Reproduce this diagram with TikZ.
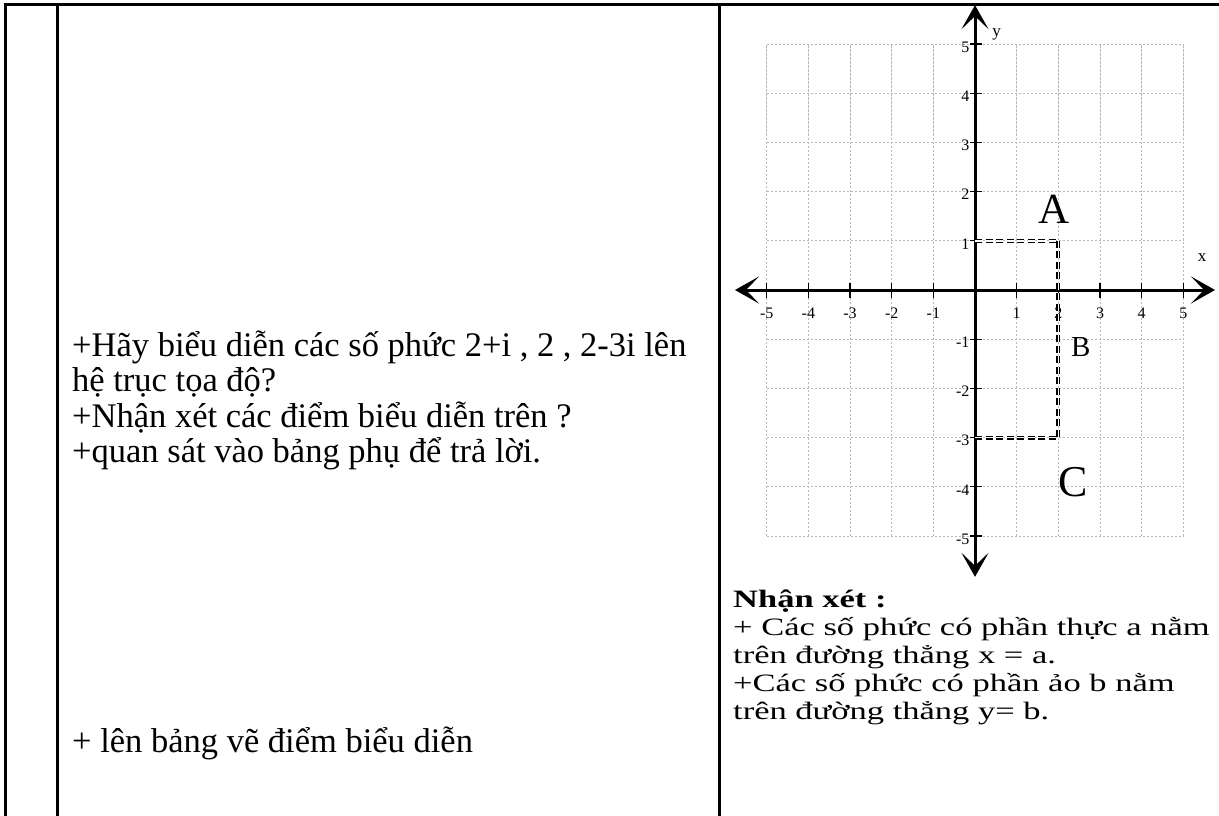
\documentclass[tikz,border=0pt]{standalone}
\usepackage{fontspec}
\setmainfont{Liberation Serif}
\newfontfamily\rightfont[FakeStretch=1.38]{Liberation Serif}
\usetikzlibrary{arrows.meta}
\begin{document}
\begin{tikzpicture}[x=1pt,y=-1pt,
  rule/.style={line width=3pt},
  gridline/.style={gray!55,line width=0.8pt,dash pattern=on 2.5pt off 1.5pt},
  axistip/.tip={Stealth[length=24pt,width=27pt,inset=13pt]},
  axisline/.style={line width=3pt,axistip-axistip},
  tickmark/.style={line width=1.2pt},
  ticklab/.style={font=\fontsize{16}{16}\selectfont,inner sep=0pt},
  axlab/.style={font=\fontsize{17}{17}\selectfont,inner sep=0pt},
  ptlab/.style={inner sep=0pt},
  guide/.style={line width=1.3pt,double=white,double distance=1.4pt,dash pattern=on 7pt off 3.5pt},
  lefttxt/.style={anchor=base west,inner sep=0pt,font=\fontsize{34.5}{34.5}\selectfont},
  righttxt/.style={anchor=base west,inner sep=0pt,font=\rightfont\fontsize{25}{25}\selectfont}
]
\useasboundingbox (0,0) rectangle (1219,816);
% table rules
\draw[rule] (3.5,4.5) -- (1219,4.5);
\draw[rule] (5,3) -- (5,816);
\draw[rule] (57,3) -- (57,816);
\draw[rule] (719,3) -- (719,816);
% left column text
\node[lefttxt] (l1) at (72,356) {+Hãy biểu diễn các số phức 2+i , 2 , 2-3i lên};
\node[lefttxt] (l2) at (72,391.5) {hệ trục tọa độ?};
\node[lefttxt] (l3) at (72,427) {+Nhận xét các điểm biểu diễn trên ?};
\node[lefttxt] (l4) at (72,462.5) {+quan sát vào bảng phụ để trả lời.};
\node[lefttxt] (l5) at (72,752) {+ lên bảng vẽ điểm biểu diễn};
% right column text
\node[righttxt,font=\rightfont\fontsize{25}{25}\selectfont\bfseries] (r1) at (733,607.5) {Nhận xét :};
\node[righttxt] (r2) at (733,635.5) {+ Các số phức có phần thực a nằm};
\node[righttxt] (r3) at (733,663.5) {trên đường thẳng x = a.};
\node[righttxt] (r4) at (733,691.5) {+Các số phức có phần ảo b nằm};
\node[righttxt] (r5) at (733,719) {trên đường thẳng y= b.};
% coordinate system
\begin{scope}[shift={(975,290)},x=41.667pt,y=49.2pt]
  \draw[gridline,step=1] (-5,-5) grid (5,5);
  \coordinate (xl) at (-5.76,0);
  \coordinate (xr) at (5.76,0);
  \coordinate (yt) at (0,5.79);
  \coordinate (yb) at (0,-5.83);
  \draw[axisline] (xl) -- (xr);
  \draw[axisline] (yb) -- (yt);
  \foreach \i in {-5,-4,-3,-2,-1,1,2,3,4,5}{
    \draw[tickmark] (\i,0.14) -- (\i,-0.16);
    \draw[tickmark] (-0.12,\i) -- (0.17,\i);
    \node[ticklab] (tx\i) at (\i,-0.47) {\i};
    \node[ticklab,anchor=east] (ty\i) at (-0.13,\i-0.06) {\i};
  }
  \node[axlab] (ylab) at (0.52,5.2) {y};
  \node[axlab] (xlab) at (5.45,0.65) {x};
  \coordinate (A1) at (0,1);
  \coordinate (A) at (2,1);
  \coordinate (C) at (2,-3);
  \coordinate (C1) at (0,-3);
  \draw[guide] (A1) -- (A);
  \draw[guide] (A) -- (C);
  \draw[guide] (C1) -- (C);
  \node[ptlab,font=\fontsize{43}{43}\selectfont] (Alab) at (1.89,1.64) {A};
  \node[ptlab,font=\fontsize{29}{29}\selectfont] (Blab) at (2.54,-1.15) {B};
  \node[ptlab,font=\fontsize{44}{44}\selectfont] (Clab) at (2.35,-3.9) {C};
\end{scope}
\end{tikzpicture}
\end{document}
